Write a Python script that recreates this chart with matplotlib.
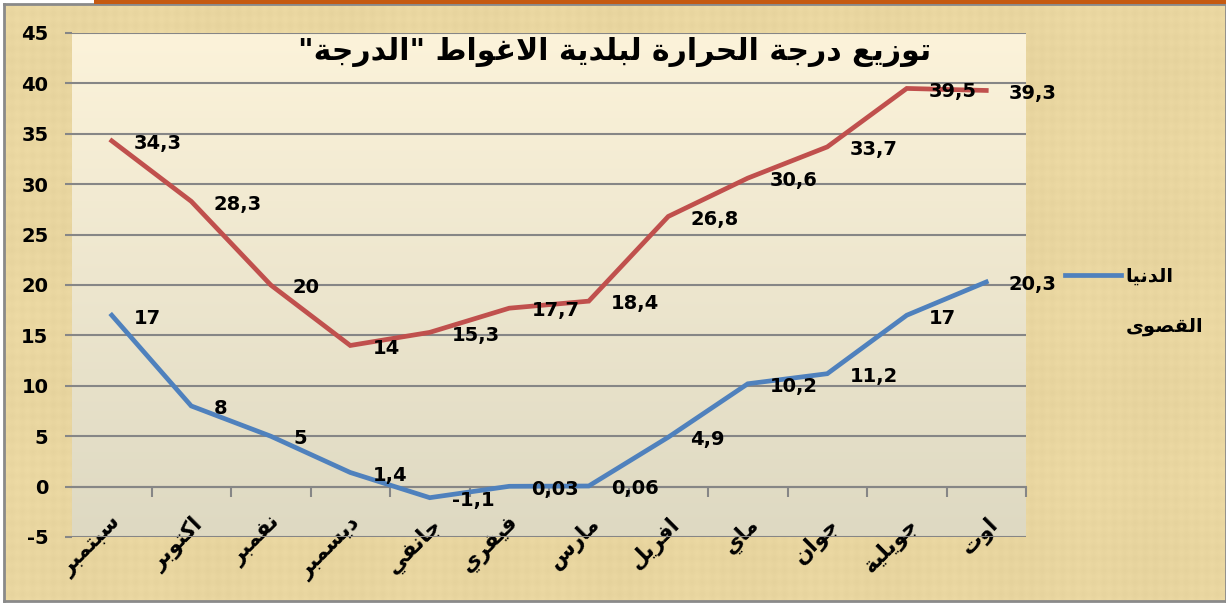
import numpy as np
import matplotlib
matplotlib.use('Agg')
import matplotlib.pyplot as plt
from matplotlib.lines import Line2D
from matplotlib.patches import Rectangle

plt.rcParams['font.family'] = ['DejaVu Sans']
plt.rcParams['axes.unicode_minus'] = False

title = 'توزيع درجة الحرارة لبلدية الاغواط "الدرجة"'
months = ['سبتمبر', 'اكتوبر', 'نفمبر', 'ديسمبر', 'جانفي', 'فيفري',
          'مارس', 'افريل', 'ماي', 'جوان', 'جويلية', 'اوت']
t_max = [34.3, 28.3, 20, 14, 15.3, 17.7, 18.4, 26.8, 30.6, 33.7, 39.5, 39.3]
t_min = [17, 8, 5, 1.4, -1.1, 0.03, 0.06, 4.9, 10.2, 11.2, 17, 20.3]
label_min = 'الدنيا'
label_max = 'القصوى'
yticks = [-5, 0, 5, 10, 15, 20, 25, 30, 35, 40, 45]

# matplotlib has no arabic shaping, so pick presentation forms by hand
AR_FORMS = {
    'ا': ('\ufe8d', '\ufe8e', None, None),
    'ب': ('\ufe8f', '\ufe90', '\ufe91', '\ufe92'),
    'ة': ('\ufe93', '\ufe94', None, None),
    'ت': ('\ufe95', '\ufe96', '\ufe97', '\ufe98'),
    'ج': ('\ufe9d', '\ufe9e', '\ufe9f', '\ufea0'),
    'ح': ('\ufea1', '\ufea2', '\ufea3', '\ufea4'),
    'د': ('\ufea9', '\ufeaa', None, None),
    'ر': ('\ufead', '\ufeae', None, None),
    'ز': ('\ufeaf', '\ufeb0', None, None),
    'س': ('\ufeb1', '\ufeb2', '\ufeb3', '\ufeb4'),
    'ص': ('\ufeb9', '\ufeba', '\ufebb', '\ufebc'),
    'ط': ('\ufec1', '\ufec2', '\ufec3', '\ufec4'),
    'ع': ('\ufec9', '\ufeca', '\ufecb', '\ufecc'),
    'غ': ('\ufecd', '\ufece', '\ufecf', '\ufed0'),
    'ف': ('\ufed1', '\ufed2', '\ufed3', '\ufed4'),
    'ق': ('\ufed5', '\ufed6', '\ufed7', '\ufed8'),
    'ك': ('\ufed9', '\ufeda', '\ufedb', '\ufedc'),
    'ل': ('\ufedd', '\ufede', '\ufedf', '\ufee0'),
    'م': ('\ufee1', '\ufee2', '\ufee3', '\ufee4'),
    'ن': ('\ufee5', '\ufee6', '\ufee7', '\ufee8'),
    'و': ('\ufeed', '\ufeee', None, None),
    'ى': ('\ufeef', '\ufef0', None, None),
    'ي': ('\ufef1', '\ufef2', '\ufef3', '\ufef4'),
}


def joins_fwd(c):
    return c in AR_FORMS and AR_FORMS[c][2] is not None


def shape(text):
    out = []
    n = len(text)
    i = 0
    while i < n:
        c = text[i]
        if c not in AR_FORMS:
            out.append(c)
            i += 1
            continue
        link_prev = i > 0 and joins_fwd(text[i - 1])
        if c == 'ل' and i + 1 < n and text[i + 1] == 'ا':
            out.append('\ufefc' if link_prev else '\ufefb')
            i += 2
            continue
        link_next = joins_fwd(c) and i + 1 < n and text[i + 1] in AR_FORMS
        iso, fin, ini, med = AR_FORMS[c]
        if link_prev and link_next:
            out.append(med)
        elif link_prev:
            out.append(fin)
        elif link_next:
            out.append(ini)
        else:
            out.append(iso)
        i += 1
    return ''.join(reversed(out))


def fmt(v):
    return f'{v:g}'.replace('.', ',')


W, H = 1226, 603
fig = plt.figure(figsize=(W / 100, H / 100), dpi=100)
fig.patch.set_facecolor('white')

# papyrus-like frame: tan with faint fibre streaks
bg = fig.add_axes([4 / W, 2 / H, 1 - 4 / W, 597 / H], zorder=-10)
yy, xx = np.mgrid[0:597, 0:1222]
fib = (0.4 * np.sin(xx * 0.61) + 0.3 * np.sin(xx * 0.047 + 1.0)
       + 0.4 * np.sin(yy * 0.53) + 0.3 * np.sin(yy * 0.039 + 2.0))
base = np.array([233, 214, 160]) / 255
paper = base[None, None, :] + 0.012 * fib[..., None]
bg.imshow(np.clip(paper, 0, 1), aspect='auto', interpolation='bilinear')
bg.set_xticks([])
bg.set_yticks([])
for s in bg.spines.values():
    s.set_color('#8a8a8a')
    s.set_linewidth(2)
fig.patches.append(Rectangle((94 / W, 1 - 3.5 / H), 1 - 94 / W, 3.5 / H, transform=fig.transFigure,
                             facecolor='#c55a11', edgecolor='none', zorder=-9))

ax = fig.add_axes([72 / W, 1 - 537 / H, (1026 - 72) / W, (537 - 33) / H])
ax.set_facecolor('none')

grad = np.linspace(0, 1, 256)[:, None]
top = np.array([252, 243, 218]) / 255
bot = np.array([222, 217, 194]) / 255
img = top * (1 - grad[..., None]) + bot * grad[..., None]
ax.imshow(img, extent=[0, 1, 0, 1], transform=ax.transAxes, aspect='auto', zorder=0)

x = np.arange(len(months))
ax.plot(x, t_max, color='#c0504d', linewidth=3.4, solid_joinstyle='miter', zorder=3)
ax.plot(x, t_min, color='#4f81bd', linewidth=3.4, solid_joinstyle='miter', zorder=3)

for xi, v in zip(x, t_max):
    ax.annotate(fmt(v), (xi, v), xytext=(16, -2), textcoords='offset points',
                ha='left', va='center', fontsize=14, fontweight='bold', zorder=4)
for xi, v in zip(x, t_min):
    ax.annotate(fmt(v), (xi, v), xytext=(16, -2), textcoords='offset points',
                ha='left', va='center', fontsize=14, fontweight='bold', zorder=4)

ax.set_xlim(-0.5, len(months) - 0.5)
ax.set_ylim(-5, 45)
ax.set_yticks(yticks)
ax.yaxis.grid(True, color='#868686', linewidth=1.5)
ax.set_axisbelow(True)
ax.tick_params(axis='y', length=5, width=1.5, color='#868686', pad=12,
               labelsize=14)
for lab in ax.get_yticklabels():
    lab.set_fontweight('bold')

for side in ['left', 'right', 'top']:
    ax.spines[side].set_visible(False)
ax.spines['bottom'].set_position(('data', 0))
ax.spines['bottom'].set_color('#868686')
ax.spines['bottom'].set_linewidth(1.5)

ax.set_xticks(x)
ax.set_xticklabels([shape(m) for m in months], rotation=45, ha='right', va='top',
                   rotation_mode='anchor', fontsize=15.5, fontweight='bold')
ax.set_xticks(np.arange(0.5, len(months), 1), minor=True)
ax.tick_params(axis='x', which='major', length=0, pad=19)
ax.tick_params(axis='x', which='minor', length=7, width=1.5, color='#868686')

fig.text(615 / W, 1 - 52 / H, shape(title), ha='center', va='center',
         fontsize=21.5, fontweight='bold')

h_min = Line2D([], [], color='#4f81bd', linewidth=3.4)
h_max = Line2D([], [], color='#c0504d', linewidth=3.4, linestyle='none')
fig.legend([h_min, h_max], [shape(label_min), shape(label_max)],
           loc='upper left', bbox_to_anchor=(1047 / W, 1 - 249 / H),
           frameon=False, prop={'size': 14, 'weight': 'bold'},
           handlelength=2.9, handletextpad=0.25, labelspacing=1.6)

fig.savefig('out.png', dpi=100)
